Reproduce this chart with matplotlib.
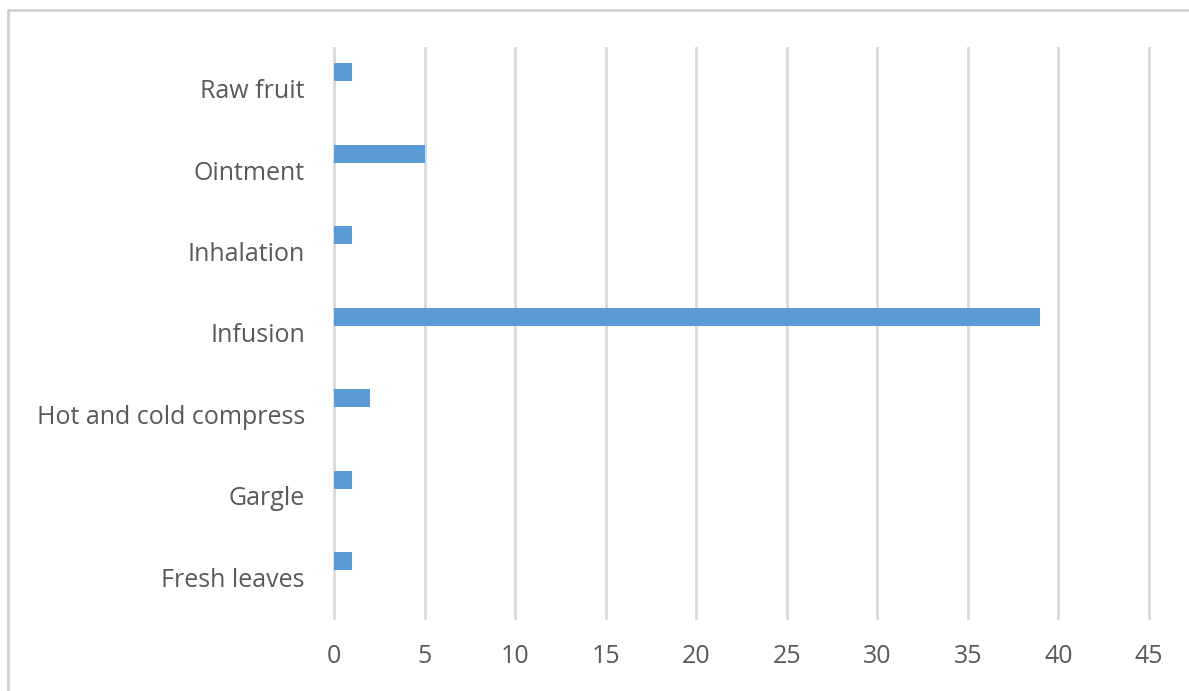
import matplotlib
matplotlib.use("Agg")
import matplotlib.pyplot as plt
from matplotlib.lines import Line2D

categories = ["Fresh leaves", "Gargle", "Hot and cold compress", "Infusion",
              "Inhalation", "Ointment", "Raw fruit"]
values = [1, 1, 2, 39, 1, 5, 1]
xticks = [0, 5, 10, 15, 20, 25, 30, 35, 40, 45]

plt.rcParams['font.family'] = ['Open Sans', 'DejaVu Sans']

W, H = 1189, 691
fig = plt.figure(figsize=(W / 100, H / 100), dpi=100)
ax = fig.add_axes([334 / W, 1 - 618 / H, (1149 - 334) / W, (618 - 48) / H])

pos = list(range(len(categories)))
ax.barh([p + 0.2 for p in pos], values, height=0.22, color="#5b9bd5", zorder=3)

ax.set_xlim(0, 45)
ax.set_ylim(-0.5, len(categories) - 0.5)
ax.set_xticks(xticks)
ax.set_xticklabels([str(t) for t in xticks])
ax.set_yticks(pos)
ax.set_yticklabels(categories)
ax.tick_params(axis='both', length=0, labelsize=18, labelcolor="#595959")
ax.tick_params(axis='y', pad=21)
ax.tick_params(axis='x', pad=19)
ax.grid(axis='x', color="#d9d9d9", linewidth=2, zorder=0)
ax.grid(axis='y', visible=False)
for gl in ax.get_xgridlines():
    gl.set_clip_on(False)
for s in ax.spines.values():
    s.set_visible(False)

# outer chart border (top and left visible)
fig.add_artist(Line2D([8 / W, 8 / W, 1.0], [0.0, 1 - 10 / H, 1 - 10 / H],
                      transform=fig.transFigure, color="#d0d0d0", linewidth=2))

fig.savefig("out.png", dpi=100)
